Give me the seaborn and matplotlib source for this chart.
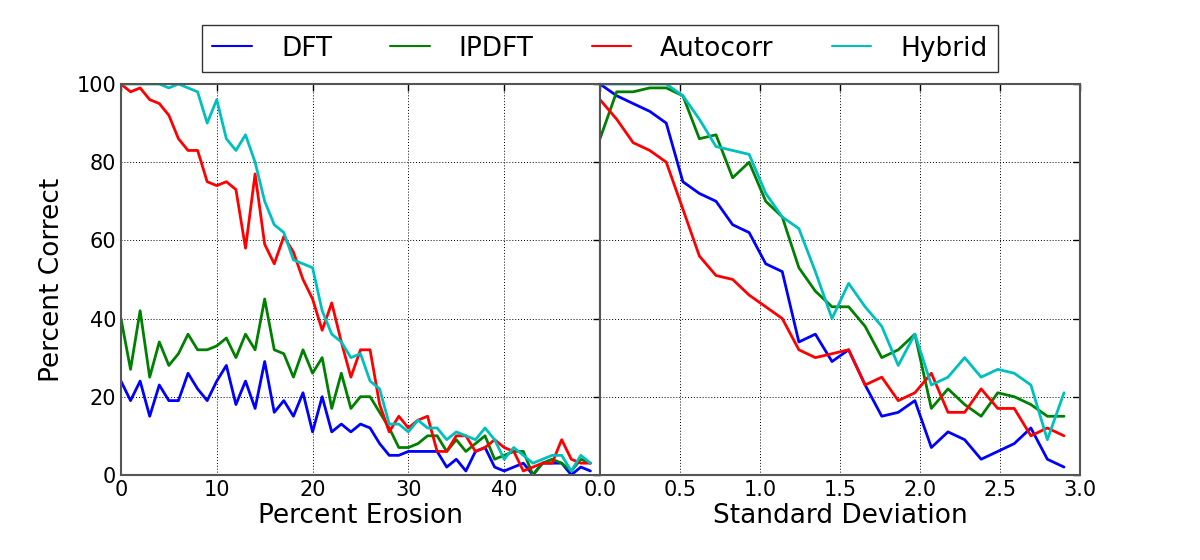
import numpy as np
import pandas as pd
import matplotlib
matplotlib.use("Agg")
import matplotlib.pyplot as plt
import seaborn as sns

# ---------------- data ----------------
methods = ["DFT", "IPDFT", "Autocorr", "Hybrid"]
colors = ["#0000ff", "#008000", "#ff0000", "#00bfbf"]

erosion = list(range(50))
erosion_dft = [24, 19, 24, 15, 23, 19, 19, 26, 22, 19, 24, 28, 18, 24, 17, 29, 16,
               19, 15, 21, 11, 20, 11, 13, 11, 13, 12, 8, 5, 5, 6, 6, 6, 6,
               2, 4, 1, 6, 7, 2, 1, 2, 3, 0, 3, 3, 3, 0, 2, 1]
erosion_ipdft = [40, 27, 42, 25, 34, 28, 31, 36, 32, 32, 33, 35, 30, 36, 32, 45, 32,
                 31, 25, 32, 26, 30, 17, 26, 17, 20, 20, 16, 12, 7, 7, 8, 10, 10,
                 6, 9, 6, 8, 10, 4, 5, 6, 6, 0, 3, 4, 3, 1, 4, 3]
erosion_autocorr = [100, 98, 99, 96, 95, 92, 86, 83, 83, 75, 74, 75, 73, 58, 77, 59, 54,
                    61, 57, 50, 45, 37, 44, 34, 25, 32, 32, 18, 11, 15, 12, 14, 15, 6,
                    6, 10, 10, 6, 7, 9, 7, 6, 1, 2, 3, 3, 9, 4, 3, 3]
erosion_hybrid = [100, 100, 100, 100, 100, 99, 100, 99, 98, 90, 96, 86, 83, 87, 80, 70, 64,
                  62, 55, 54, 53, 42, 36, 34, 30, 31, 24, 22, 13, 13, 11, 14, 12, 12,
                  9, 11, 10, 9, 12, 9, 4, 7, 5, 3, 4, 5, 5, 1, 5, 3]

stdev = [0.0, 0.104, 0.207, 0.311, 0.414, 0.518, 0.621, 0.725, 0.829, 0.932,
         1.036, 1.139, 1.243, 1.346, 1.45, 1.554, 1.657, 1.761, 1.864, 1.968,
         2.071, 2.175, 2.279, 2.382, 2.486, 2.589, 2.693, 2.796, 2.9]
stdev_dft = [100, 97, 95, 93, 90, 75, 72, 70, 64, 62, 54, 52, 34, 36, 29, 32, 23, 15,
             16, 19, 7, 11, 9, 4, 6, 8, 12, 4, 2]
stdev_ipdft = [86, 98, 98, 99, 99, 97, 86, 87, 76, 80, 70, 66, 53, 47, 43, 43, 38, 30,
               32, 36, 17, 22, 18, 15, 21, 20, 18, 15, 15]
stdev_autocorr = [96, 91, 85, 83, 80, 68, 56, 51, 50, 46, 43, 40, 32, 30, 31, 32, 23, 25,
                  19, 21, 26, 16, 16, 22, 17, 17, 10, 12, 10]
stdev_hybrid = [100, 100, 100, 100, 100, 97, 91, 84, 83, 82, 72, 66, 63, 52, 40, 49, 43, 38,
                28, 36, 23, 25, 30, 25, 27, 26, 23, 9, 21]

x_ticks_left = [0, 10, 20, 30, 40]
x_ticks_right = [0.0, 0.5, 1.0, 1.5, 2.0, 2.5, 3.0]
y_ticks = [0, 20, 40, 60, 80, 100]


def long_df(x, series):
    frames = []
    for name, vals in zip(methods, series):
        frames.append(pd.DataFrame({"x": x, "y": vals, "method": name}))
    return pd.concat(frames, ignore_index=True)


df_left = long_df(erosion, [erosion_dft, erosion_ipdft, erosion_autocorr, erosion_hybrid])
df_right = long_df(stdev, [stdev_dft, stdev_ipdft, stdev_autocorr, stdev_hybrid])

# ---------------- figure ----------------
sns.set_style("white")
plt.rcParams["font.family"] = ["DejaVu Sans"]
plt.rcParams["text.color"] = "black"
plt.rcParams["axes.labelcolor"] = "black"

fig = plt.figure(figsize=(12, 5.6), dpi=100)
ax1 = fig.add_axes([0.1008, 0.152, 0.3992, 0.698])
ax2 = fig.add_axes([0.5, 0.152, 0.4, 0.698])

palette = dict(zip(methods, colors))
for ax, df in ((ax1, df_left), (ax2, df_right)):
    sns.lineplot(data=df, x="x", y="y", hue="method", hue_order=methods,
                 palette=palette, linewidth=2, estimator=None, sort=False,
                 ax=ax, legend=(ax is ax1))

ax1.set_xlim(0, 50)
ax2.set_xlim(0, 3.0)
for ax in (ax1, ax2):
    ax.set_ylim(0, 100)
    ax.set_yticks(y_ticks)
    ax.grid(True, color="black", linestyle=(0, (1, 2)), linewidth=0.7)
    ax.tick_params(direction="in", top=True, right=True, length=5, width=1,
                   labelsize=15, colors="black")
    for s in ax.spines.values():
        s.set_color("#555555")
        s.set_linewidth(1.5)

ax1.set_xticks(x_ticks_left)
ax2.set_xticks(x_ticks_right)
ax2.set_xticklabels(["%.1f" % v for v in x_ticks_right])
ax2.set_yticklabels([])

ax1.set_xlabel("Percent Erosion", fontsize=19, labelpad=2, color="black")
ax2.set_xlabel("Standard Deviation", fontsize=19, labelpad=2, color="black")
ax1.set_ylabel("Percent Correct", fontsize=19, labelpad=8, color="black")
ax2.set_ylabel("")

# legend at the top
handles, labels = ax1.get_legend_handles_labels()
ax1.get_legend().remove()
leg = fig.legend(handles, labels, loc="upper center", bbox_to_anchor=(0.5, 0.979),
                 ncol=4, fontsize=19, frameon=True, fancybox=False,
                 handlelength=1.5, columnspacing=2.2, handletextpad=1.1,
                 borderpad=0.4)
leg.get_frame().set_edgecolor("black")
leg.get_frame().set_linewidth(1.0)
for t in leg.get_texts():
    t.set_color("black")
for h in leg.get_lines():
    h.set_linewidth(1.5)

fig.savefig("out.png", dpi=100, facecolor="white")
